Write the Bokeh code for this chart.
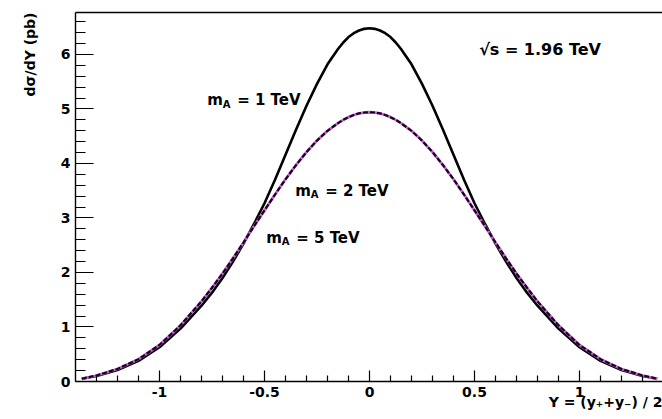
from bokeh.plotting import figure
from bokeh.models import Range1d, FixedTicker, LinearAxis, Label, ColumnDataSource, Title
from bokeh.embed import file_html
from bokeh.resources import INLINE

# Rapidity Y = (y+ + y-)/2 and dsigma/dY (pb) for three axigluon masses at sqrt(s) = 1.96 TeV
rapidity = [-1.37, -1.3, -1.2, -1.1, -1.0, -0.9, -0.8, -0.75, -0.7, -0.65, -0.6, -0.55,
            -0.5, -0.45, -0.4, -0.35, -0.3, -0.25, -0.2, -0.15, -0.125, -0.1, -0.075,
            -0.05, -0.025, 0.0, 0.025, 0.05, 0.075, 0.1, 0.125, 0.15,
            0.2, 0.25, 0.3, 0.35, 0.4, 0.45, 0.5,
            0.55, 0.6, 0.65, 0.7, 0.75, 0.8, 0.9, 1.0, 1.1, 1.2, 1.3, 1.37]

xsec_1tev = [0.05, 0.10, 0.21, 0.38, 0.63, 0.97, 1.39, 1.63, 1.90, 2.20, 2.53, 2.89,
             3.27, 3.70, 4.16, 4.62, 5.06, 5.46, 5.82, 6.10, 6.22, 6.32, 6.39,
             6.44, 6.47, 6.48, 6.47, 6.44, 6.39, 6.32, 6.22, 6.10,
             5.82, 5.46, 5.06, 4.62, 4.16, 3.70, 3.27,
             2.89, 2.53, 2.20, 1.90, 1.63, 1.39, 0.97, 0.63, 0.38, 0.21, 0.10, 0.05]

xsec_2tev = [0.05, 0.11, 0.23, 0.41, 0.67, 1.03, 1.47, 1.72, 1.98, 2.26, 2.55, 2.85,
             3.14, 3.43, 3.71, 3.97, 4.21, 4.42, 4.60, 4.74, 4.80, 4.85, 4.89,
             4.92, 4.935, 4.94, 4.935, 4.92, 4.89, 4.85, 4.80, 4.74,
             4.60, 4.42, 4.21, 3.97, 3.71, 3.43, 3.14,
             2.85, 2.55, 2.26, 1.98, 1.72, 1.47, 1.03, 0.67, 0.41, 0.23, 0.11, 0.05]

xsec_5tev = [0.05, 0.11, 0.23, 0.41, 0.67, 1.03, 1.47, 1.72, 1.98, 2.26, 2.55, 2.85,
             3.14, 3.43, 3.71, 3.97, 4.21, 4.42, 4.60, 4.74, 4.80, 4.85, 4.89,
             4.92, 4.935, 4.94, 4.935, 4.92, 4.89, 4.85, 4.80, 4.74,
             4.60, 4.42, 4.21, 3.97, 3.71, 3.43, 3.14,
             2.85, 2.55, 2.26, 1.98, 1.72, 1.47, 1.03, 0.67, 0.41, 0.23, 0.11, 0.05]

x_ticks = [-1, -0.5, 0, 0.5, 1]
x_tick_labels = ["-1", "-0.5", "0", "0.5", "1"]
x_minor = [-1.3, -1.2, -1.1, -0.9, -0.8, -0.7, -0.6, -0.4, -0.3, -0.2, -0.1,
           0.1, 0.2, 0.3, 0.4, 0.6, 0.7, 0.8, 0.9, 1.1, 1.2, 1.3]
y_ticks = [0, 1, 2, 3, 4, 5, 6]
y_tick_labels = ["0", "1", "2", "3", "4", "5", "6"]
y_minor = [k / 5 for k in range(0, 34)]

FONT = "DejaVu Sans"

p = figure(width=662, height=419, output_backend="svg", toolbar_location=None,
           x_range=Range1d(-1.4, 1.3952), y_range=Range1d(0, 6.77),
           min_border_left=75, min_border_right=0, min_border_top=12, min_border_bottom=38,
           background_fill_color="white", border_fill_color="white")
p.outline_line_color = None
p.grid.visible = False

src = ColumnDataSource(dict(x=rapidity, m1=xsec_1tev, m2=xsec_2tev, m5=xsec_5tev))
p.line("x", "m1", source=src, line_color="black", line_width=2.6)
p.line("x", "m5", source=src, line_color="#d060d0", line_width=2.8)
p.line("x", "m2", source=src, line_color="#100620", line_width=2.2, line_dash="5 2")

for ax in (p.xaxis[0], p.yaxis[0]):
    ax.axis_line_color = "black"
    ax.axis_line_width = 1.4
    ax.major_tick_line_color = "black"
    ax.minor_tick_line_color = "black"
    ax.major_tick_line_width = 1.2
    ax.minor_tick_line_width = 1.2
    ax.major_tick_out = 0
    ax.minor_tick_out = 0
    ax.major_label_text_font = FONT
    ax.major_label_text_font_style = "bold"
    ax.major_label_text_font_size = "14px"
    ax.major_label_text_color = "black"

p.xaxis.ticker = FixedTicker(ticks=x_ticks, minor_ticks=x_minor)
p.xaxis.major_label_overrides = dict(zip(x_ticks, x_tick_labels))
p.xaxis.major_tick_in = 11
p.xaxis.minor_tick_in = 6
p.xaxis.major_label_standoff = 5

p.yaxis.ticker = FixedTicker(ticks=y_ticks, minor_ticks=y_minor)
p.yaxis.major_label_overrides = dict(zip(y_ticks, y_tick_labels))
p.yaxis.major_tick_in = 18
p.yaxis.minor_tick_in = 10
p.yaxis.major_label_standoff = 5

# plain frame line along the top
top = LinearAxis(major_tick_in=0, major_tick_out=0, minor_tick_in=0, minor_tick_out=0,
                 major_label_text_font_size="0px", axis_line_width=1.4, axis_line_color="black",
                 ticker=FixedTicker(ticks=[]))
p.add_layout(top, "above")

# axis titles, aligned to the far end of each axis
p.add_layout(Title(text="d\u03c3/dY (pb)", align="right", text_font=FONT, text_font_style="bold",
                   text_font_size="14px", text_color="black", standoff=39), "left")
p.add_layout(Title(text="Y = (y\u208a+y\u208b) / 2", align="right", text_font=FONT,
                   text_font_style="bold", text_font_size="14px", text_color="black",
                   standoff=-16), "below")


def add_text(x, y, text, size="15px", x_offset=0, y_offset=0):
    p.add_layout(Label(x=x, y=y, text=text, x_offset=x_offset, y_offset=y_offset,
                       text_font=FONT, text_font_style="bold", text_font_size=size,
                       text_color="black", text_baseline="middle", text_align="left"))


def mass_label(x, y, mass):
    add_text(x, y, "m")
    add_text(x, y, "A", size="10px", x_offset=15.5, y_offset=-4)
    add_text(x, y, "= " + mass, x_offset=30)


mass_label(-0.773, 5.16, "1 TeV")
mass_label(-0.354, 3.50, "2 TeV")
mass_label(-0.492, 2.64, "5 TeV")
add_text(0.522, 6.09, "\u221as = 1.96 TeV", size="16px")

open("out.html", "w").write(file_html(p, INLINE))
